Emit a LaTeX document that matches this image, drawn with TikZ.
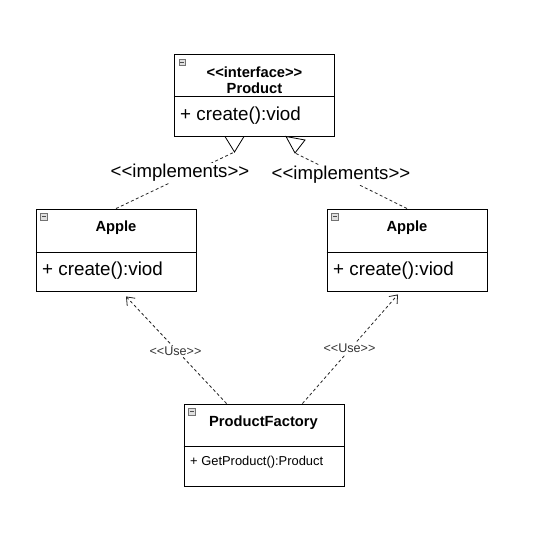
\documentclass[tikz,border=0pt]{standalone}
\usepackage{fontspec}
\setmainfont{Liberation Sans}[Ligatures=TeXOff]
\usetikzlibrary{arrows.meta}
\begin{document}
\begin{tikzpicture}[x=1pt,y=-1pt,
  umlbox/.style={draw=black,line width=0.9pt,fill=white,minimum width=160,minimum height=82,inner sep=0pt},
  titletext/.style={font=\fontsize{14.7}{17}\selectfont\bfseries,align=center,inner sep=0pt},
  methtext/.style={font=\fontsize{18.8}{22}\selectfont,anchor=west,inner sep=0pt},
  smallmeth/.style={font=\fontsize{12.9}{15}\selectfont,anchor=west,inner sep=0pt},
  dashline/.style={draw=black!85,line width=0.8pt,dash pattern=on 3pt off 2.5pt},
  impltext/.style={font=\fontsize{18.6}{22}\selectfont,fill=white,inner sep=1pt},
  usetext/.style={font=\fontsize{12.6}{15}\selectfont,text=black!80,fill=white,inner sep=1pt},
  tri/.style={draw=black,line width=0.8pt,fill=white,line join=miter},
  usearrow/.style={dashline,-{Straight Barb[length=7pt,width=11pt,line width=0.8pt]}},
  iconbox/.style={draw=black!55,fill=black!12,line width=0.5pt},
  iconminus/.style={draw=black!70,line width=0.6pt}
]
\useasboundingbox[fill=white] (0,0) rectangle (539,534);

% boxes
\node[umlbox] (prod) at (254.25,95.25) {};
\node[umlbox] (apl) at (116,250) {};
\node[umlbox] (apr) at (407,250) {};
\node[umlbox] (pf) at (264,445) {};

% dividers
\draw[line width=0.9pt] (prod.west |- 0,96) -- (prod.east |- 0,96);
\draw[line width=0.9pt] (apl.west |- 0,252) -- (apl.east |- 0,252);
\draw[line width=0.9pt] (apr.west |- 0,252) -- (apr.east |- 0,252);
\draw[line width=0.9pt] (pf.west |- 0,446) -- (pf.east |- 0,446);

% collapse icons
\foreach \b in {prod,apl,apr,pf}{
  \begin{scope}[shift={(\b.north west)}]
    \draw[iconbox] (5,5) rectangle (11.5,11.5);
    \draw[iconminus] (6.5,8.25) -- (10,8.25);
  \end{scope}
}

% texts
\node[titletext] (prodtitle) at (254.5,80.5) {<<interface>>\\[-1pt]Product};
\node[methtext] (prodm) at (180,115.5) {+ create():viod};
\node[titletext] (apltitle) at (116,227.5) {Apple};
\node[methtext] (aplm) at (42,270.5) {+ create():viod};
\node[titletext] (aprtitle) at (407,227.5) {Apple};
\node[methtext] (aprm) at (333,270.5) {+ create():viod};
\node[titletext] (pftitle) at (263.5,423) {ProductFactory};
\node[smallmeth] (pfm) at (190,462) {+ GetProduct():Product};

% triangle tips
\coordinate (lt) at (234.5,152);
\coordinate (rt) at (295,153);

% implements lines
\draw[dashline] (apl.north) -- (lt);
\draw[dashline] (apr.north) -- (rt);
\draw[tri] (225,136.5) -- (244,136.5) -- (lt) -- cycle;
\draw[tri] (286,136.5) -- (305,140) -- (rt) -- cycle;
\node[impltext] (impl) at (180,173) {<<implements>>};
\node[impltext] (impr) at (341,175) {<<implements>>};

% use lines
\coordinate (ul) at ([xshift=43pt]pf.north west);
\coordinate (ur) at ([xshift=-42pt]pf.north east);
\coordinate (ultip) at ([xshift=10pt,yshift=-5pt]apl.south);
\coordinate (urtip) at ([xshift=-9pt,yshift=-3pt]apr.south);
\draw[usearrow] (ul) -- (ultip);
\draw[usearrow] (ur) -- (urtip);
\node[usetext] (usel) at (175.5,351.5) {<<Use>>};
\node[usetext] (user) at (349.5,348.5) {<<Use>>};
\end{tikzpicture}
\end{document}
